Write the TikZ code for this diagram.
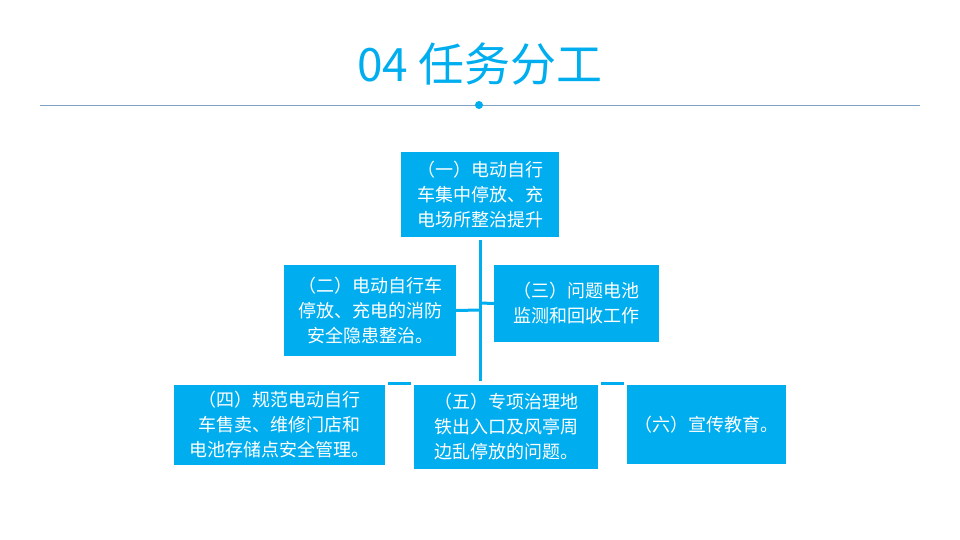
\documentclass[tikz,border=0pt]{standalone}
\usepackage{fontspec}
\setmainfont{Noto Sans CJK SC}
\definecolor{cy}{HTML}{00AEEF}
\definecolor{ln}{HTML}{7FA3C4}
\begin{document}
\begin{tikzpicture}[x=1pt,y=-1pt,
  bx/.style={fill=cy,text=white,inner sep=0pt,font=\fontsize{18}{25}\selectfont,align=center},
  cn/.style={cy,line width=3pt}]
\useasboundingbox (0,0) rectangle (960,540);
\node[text=cy,font=\fontsize{46}{50}\selectfont] (t) at (480,64) {04 任务分工};
\draw[ln,line width=0.8pt] (40,105) -- (920,105);
\fill[cy] (479,105) circle (4);
\node[bx,minimum width=158pt,minimum height=85pt] (b1) at (480,194.5) {（一）电动自行\\车集中停放、充\\电场所整治提升};
\node[bx,minimum width=172pt,minimum height=91pt] (b2) at (370,310.5) {（二）电动自行车\\停放、充电的消防\\安全隐患整治。};
\node[bx,minimum width=165pt,minimum height=77pt] (b3) at (576.5,303.5) {（三）问题电池\\监测和回收工作};
\node[bx,minimum width=211pt,minimum height=80pt] (b4) at (279.5,425) {（四）规范电动自行\\车售卖、维修门店和\\电池存储点安全管理。};
\node[bx,minimum width=184pt,minimum height=84pt] (b5) at (506,427) {（五）专项治理地\\铁出入口及风亭周\\边乱停放的问题。};
\node[bx,minimum width=159pt,minimum height=79pt] (b6) at (706.5,424.5) {（六）宣传教育。};
\coordinate (top) at (480,240);
\coordinate (bot) at (480,381);
\draw[cn] (top) -- (bot);
\draw[cn] (b2.east) -- (480,310);
\draw[cn] (480,303) -- (b3.west);
\draw[cn] (388,383) -- (411,383);
\draw[cn] (601,383) -- (624,383);
\end{tikzpicture}
\end{document}
